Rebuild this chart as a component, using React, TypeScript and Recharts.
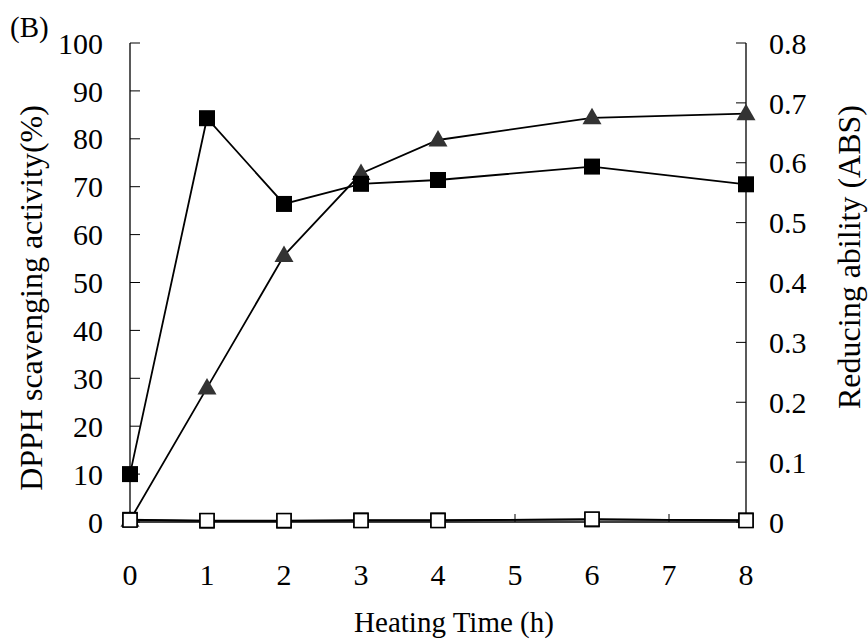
import { Line, LineChart, XAxis, YAxis } from "recharts";

// heating time (h) and the four measured series
const hours = [0, 1, 2, 3, 4, 6, 8];
const dpphHeated = [10.0, 84.3, 66.4, 70.6, 71.4, 74.2, 70.5];
const reducingHeated = [0.003, 0.224, 0.445, 0.582, 0.638, 0.675, 0.682];
const dpphControl = [0.4, 0.3, 0.3, 0.3, 0.3, 0.6, 0.3];
const reducingControl = [0.004, 0.002, 0.002, 0.003, 0.003, 0.004, 0.003];

const xTicks = [0, 1, 2, 3, 4, 5, 6, 7, 8];
const leftTicks = [0, 10, 20, 30, 40, 50, 60, 70, 80, 90, 100];
const rightTicks = [0, 0.1, 0.2, 0.3, 0.4, 0.5, 0.6, 0.7, 0.8];

const data = hours.map((h, i) => ({
  h,
  dpphHeated: dpphHeated[i],
  reducingHeated: reducingHeated[i],
  dpphControl: dpphControl[i],
  reducingControl: reducingControl[i],
}));

const FONT = "'Liberation Serif', 'Times New Roman', serif";
const tickStyle = { fill: "#000", fontSize: 30, fontFamily: FONT };

type DotProps = { cx?: number; cy?: number; index?: number };

const FilledSquare = ({ cx, cy, index }: DotProps) =>
  cx == null || cy == null ? null : (
    <rect key={`fs-${index}`} x={cx - 8} y={cy - 8} width={16} height={16} fill="#000" />
  );

const OpenSquare = ({ cx, cy, index }: DotProps) =>
  cx == null || cy == null ? null : (
    <rect
      key={`os-${index}`}
      x={cx - 7}
      y={cy - 7}
      width={14}
      height={14}
      fill="#fff"
      stroke="#000"
      strokeWidth={1.6}
    />
  );

const Triangle = ({ cx, cy, index }: DotProps) =>
  cx == null || cy == null ? null : (
    <polygon
      key={`tr-${index}`}
      points={`${cx},${cy - 10} ${cx - 9.5},${cy + 6.5} ${cx + 9.5},${cy + 6.5}`}
      fill="#333"
    />
  );

export default function App() {
  return (
    <div style={{ position: "absolute", left: 0, top: 0, width: 868, height: 644, background: "#fff" }}>
      <LineChart
        width={868}
        height={644}
        data={data}
        margin={{ top: 43, right: 30, bottom: 62, left: 30 }}
      >
        <XAxis
          dataKey="h"
          type="number"
          domain={[0, 8]}
          ticks={xTicks}
          height={60}
          tick={tickStyle}
          tickSize={-8}
          tickMargin={50}
          axisLine={{ stroke: "#000", strokeWidth: 1.3 }}
          tickLine={{ stroke: "#000" }}
        />
        <YAxis
          yAxisId="left"
          domain={[0, 100]}
          ticks={leftTicks}
          width={100}
          tick={tickStyle}
          tickSize={-10}
          tickMargin={37}
          axisLine={{ stroke: "#000", strokeWidth: 1.3 }}
          tickLine={{ stroke: "#000" }}
        />
        <YAxis
          yAxisId="right"
          orientation="right"
          domain={[0, 0.8]}
          ticks={rightTicks}
          width={92}
          tick={tickStyle}
          tickSize={-10}
          tickMargin={33}
          axisLine={{ stroke: "#000", strokeWidth: 1.3 }}
          tickLine={{ stroke: "#000" }}
        />
        <Line
          yAxisId="right"
          dataKey="reducingHeated"
          stroke="#000"
          strokeWidth={1.8}
          dot={Triangle}
          activeDot={false}
          isAnimationActive={false}
        />
        <Line
          yAxisId="left"
          dataKey="dpphHeated"
          stroke="#000"
          strokeWidth={1.8}
          dot={FilledSquare}
          activeDot={false}
          isAnimationActive={false}
        />
        <Line
          yAxisId="right"
          dataKey="reducingControl"
          stroke="#000"
          strokeWidth={1.8}
          dot={OpenSquare}
          activeDot={false}
          isAnimationActive={false}
        />
        <Line
          yAxisId="left"
          dataKey="dpphControl"
          stroke="#000"
          strokeWidth={1.8}
          dot={OpenSquare}
          activeDot={false}
          isAnimationActive={false}
        />
      </LineChart>
      <svg
        width={868}
        height={644}
        style={{ position: "absolute", left: 0, top: 0, pointerEvents: "none" }}
        fontFamily={FONT}
        fill="#000"
      >
        <text x={10} y={37} fontSize={29}>
          (B)
        </text>
        <text
          x={31}
          y={298}
          fontSize={32}
          textAnchor="middle"
          dominantBaseline="central"
          transform="rotate(-90, 31, 298)"
        >
          DPPH scavenging activity(%)
        </text>
        <text
          x={849}
          y={257}
          fontSize={32}
          textAnchor="middle"
          dominantBaseline="central"
          transform="rotate(-90, 849, 257)"
        >
          Reducing ability (ABS)
        </text>
        <text x={454} y={632} fontSize={29} textAnchor="middle">
          Heating Time (h)
        </text>
      </svg>
    </div>
  );
}
